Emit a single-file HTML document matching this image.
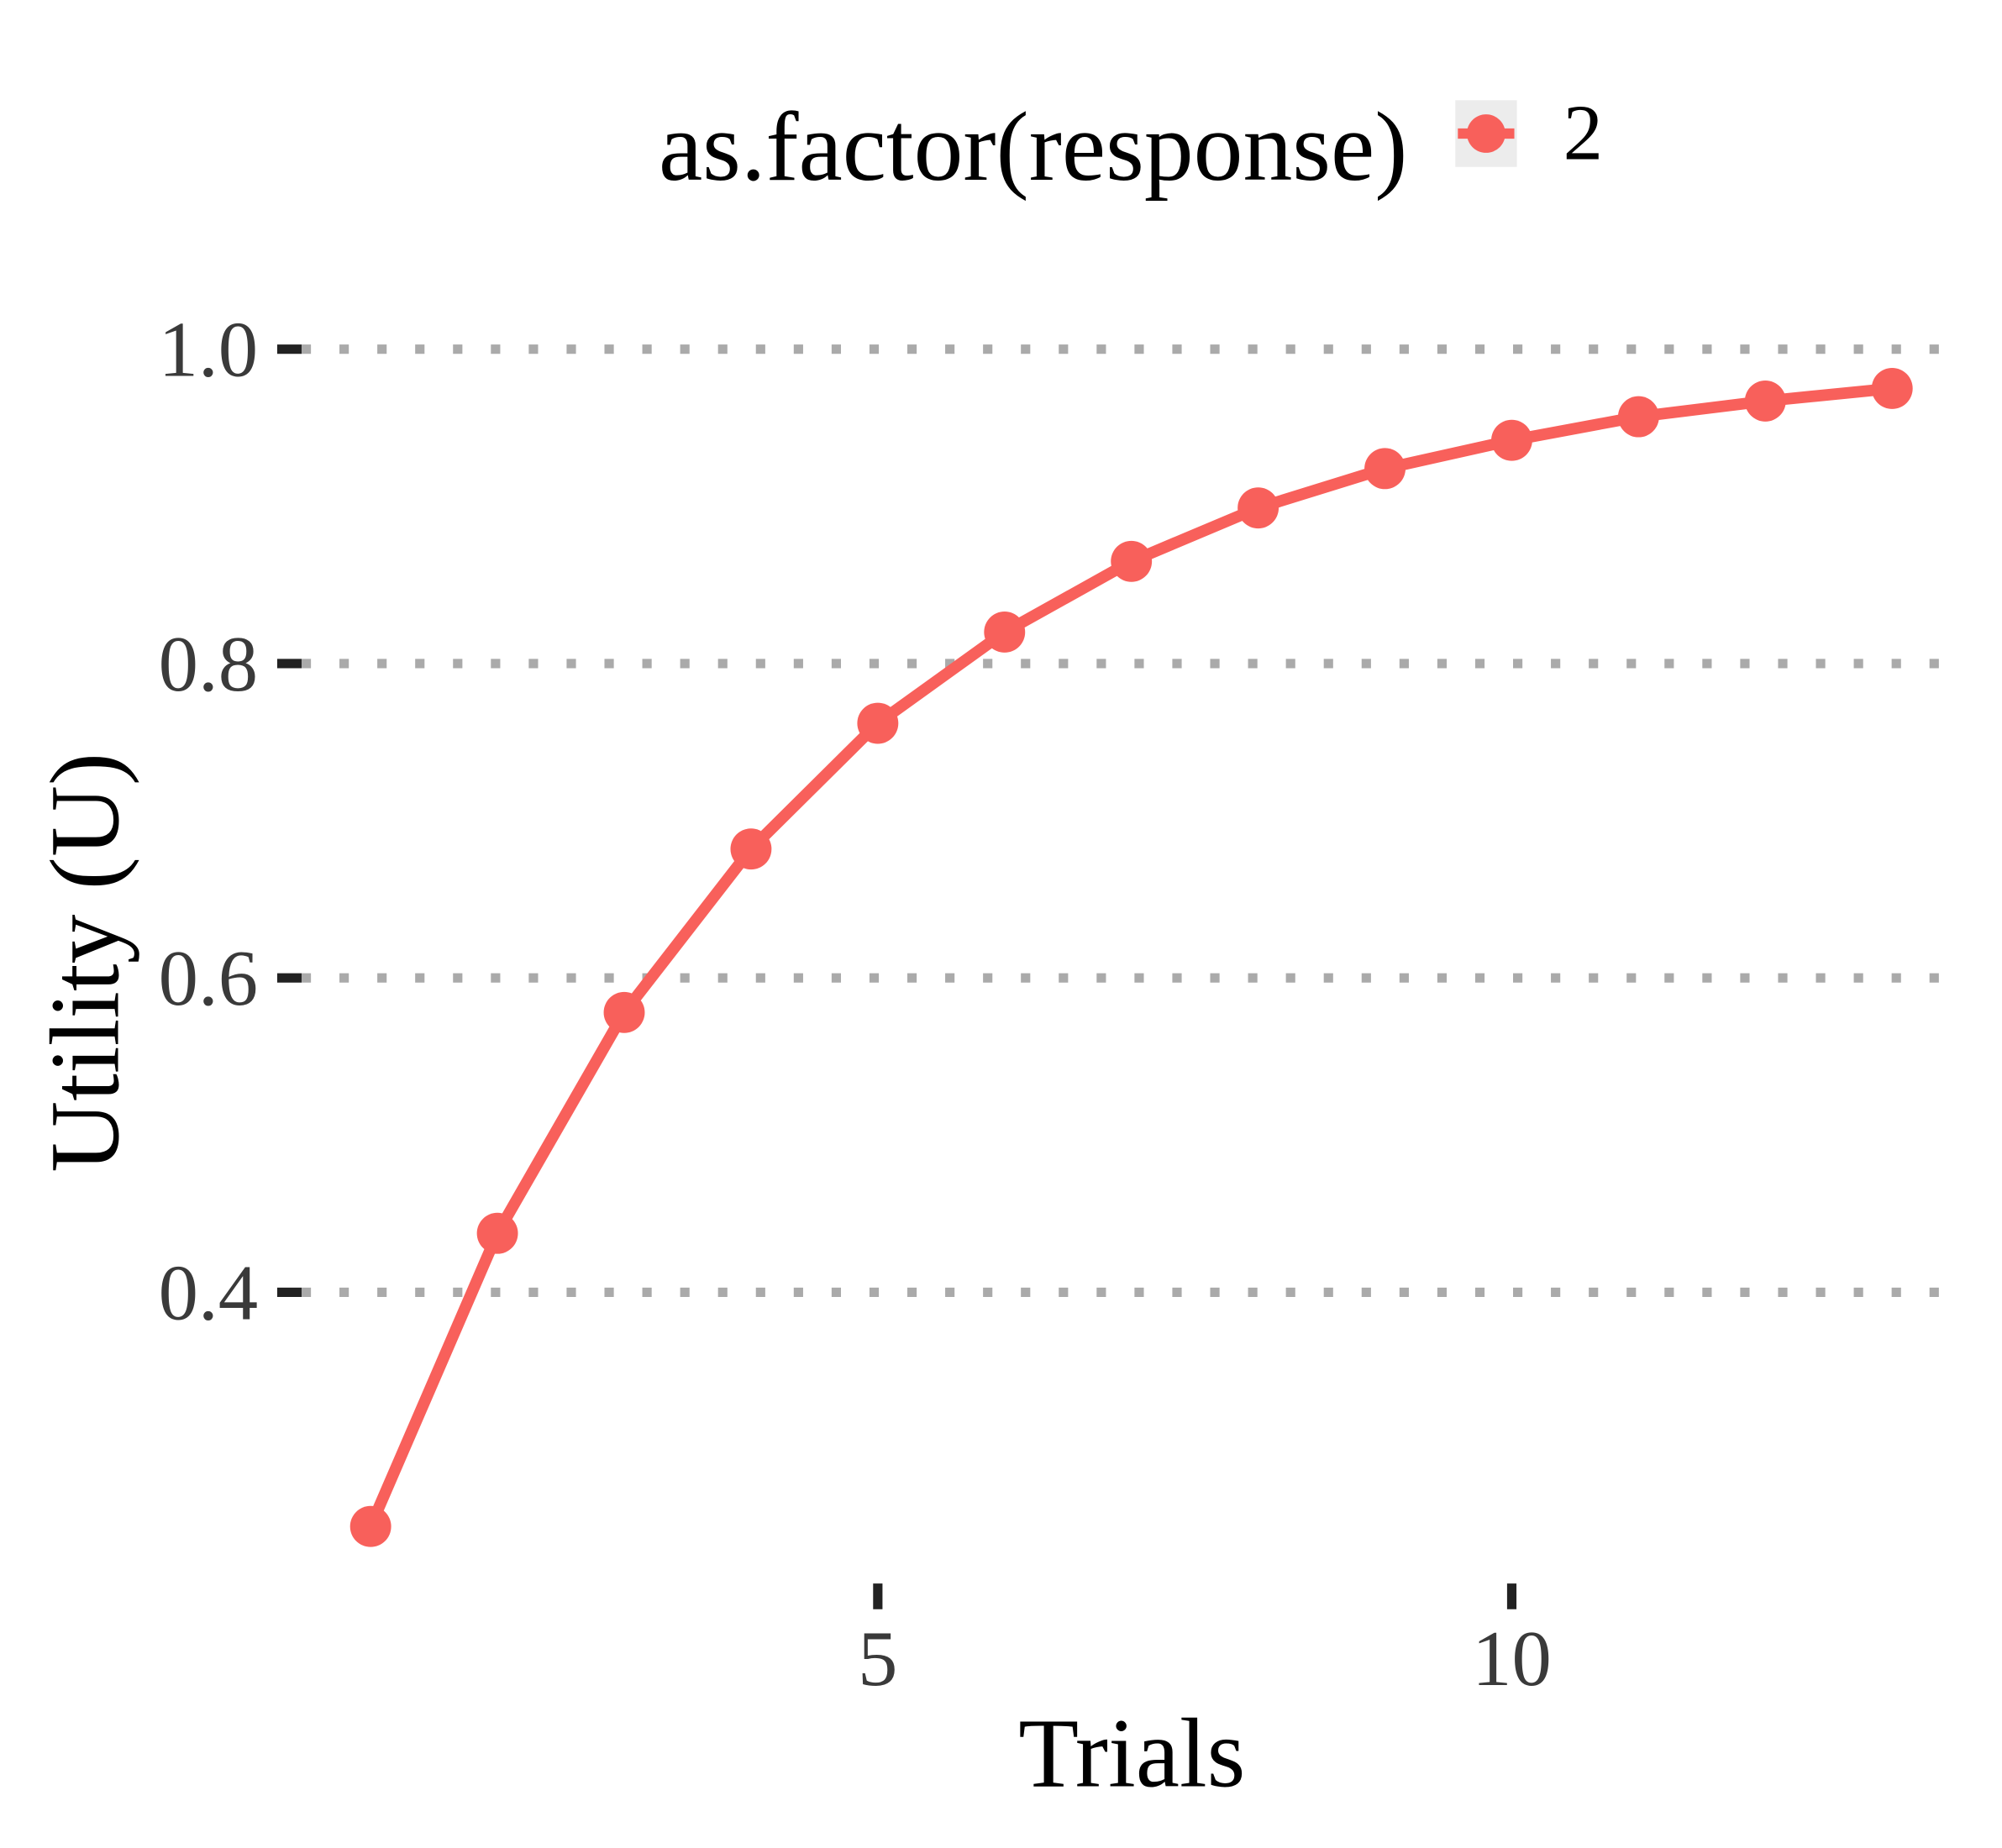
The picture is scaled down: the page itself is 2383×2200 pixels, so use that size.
<!DOCTYPE html>
<html><head><meta charset="utf-8"><style>
html,body{margin:0;padding:0;background:#fff}
svg{display:block}
text{font-family:"Liberation Serif",serif}
</style></head><body>
<svg id="chart" width="2383" height="2200" viewBox="0 0 1560 1440" xmlns="http://www.w3.org/2000/svg">
<g id="grid"></g>
<g id="axes"></g>
<g id="series"></g>
<text x="882" y="1392" font-size="77" text-anchor="middle" fill="#000">Trials</text>
<text transform="translate(92,750) rotate(-90)" font-size="77" text-anchor="middle" fill="#000">Utility (U)</text>
<g>
<text x="805" y="140" font-size="77" text-anchor="middle" fill="#000">as.factor(response)</text>
<rect x="1134" y="78" width="48" height="52" fill="#ececec"/>
<line x1="1136" y1="104" x2="1180" y2="104" stroke="#F8605B" stroke-width="8"/>
<circle cx="1158" cy="104" r="15" fill="#F8605B"/>
<text x="1218" y="124" font-size="62" fill="#000">2</text>
</g>
</svg>
<script>
const trials = [1,2,3,4,5,6,7,8,9,10,11,12,13];
const utility = [0.251,0.4375,0.578,0.682,0.762,0.820,0.865,0.899,0.924,0.942,0.957,0.967,0.975];
const yTicks = [0.4,0.6,0.8,1.0];
const yTickLabels = ["0.4","0.6","0.8","1.0"];
const xTicks = [5,10];
const xTickLabels = ["5","10"];

const NS="http://www.w3.org/2000/svg";
const xs=v=>684+(v-5)*98.8;
const ys=v=>272+(1-v)*1225;
function mk(tag,attrs,parent){const e=document.createElementNS(NS,tag);for(const k in attrs)e.setAttribute(k,attrs[k]);parent.appendChild(e);return e;}
const grid=document.getElementById('grid'),axes=document.getElementById('axes'),series=document.getElementById('series');
yTicks.forEach((t,i)=>{
  const g=mk('line',{x1:235,x2:1525,y1:ys(t),y2:ys(t),stroke:'#aaa','stroke-width':7.3,'stroke-dasharray':'7.3 22.2'},grid);
  
  
  const tk=mk('line',{x1:216,x2:235,y1:ys(t),y2:ys(t),stroke:'#222','stroke-width':7.3},axes);
  
  
  const tx=mk('text',{x:201,y:ys(t)+21,'font-size':62,'text-anchor':'end',fill:'#3a3a3a'},axes);
  tx.textContent=yTickLabels[i];
  
  
});
xTicks.forEach((t,i)=>{
  const tk=mk('line',{x1:xs(t),x2:xs(t),y1:1234,y2:1254,stroke:'#222','stroke-width':7.3},axes);
  
  
  const tx=mk('text',{x:xs(t),y:1313,'font-size':62,'text-anchor':'middle',fill:'#3a3a3a'},axes);
  tx.textContent=xTickLabels[i];
  
  
});
const pts=trials.map((t,i)=>xs(t)+','+ys(utility[i])).join(' ');
const pl=mk('polyline',{points:pts,fill:'none',stroke:'#F8605B','stroke-width':9,'stroke-linejoin':'round'},series);


trials.forEach((t,i)=>{
  const c=mk('circle',{cx:xs(t),cy:ys(utility[i]),r:16,fill:'#F8605B'},series);
  
  
});
</script>
</body></html>
